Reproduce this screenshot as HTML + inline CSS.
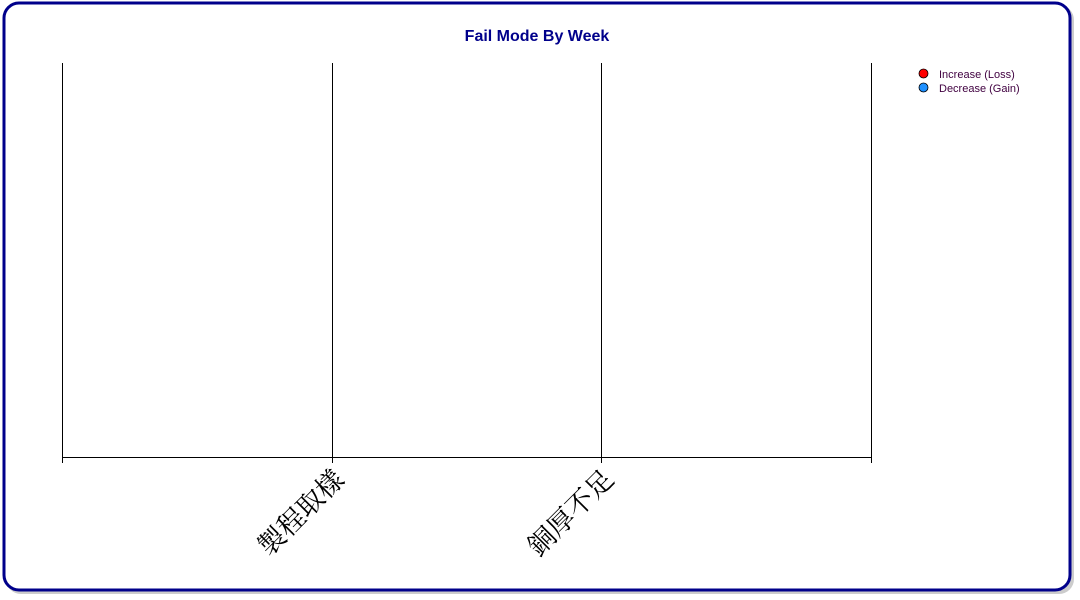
<!DOCTYPE html>
<html><head><meta charset="utf-8"><style>
html,body{margin:0;padding:0;background:#fff;width:1080px;height:600px;overflow:hidden}
svg{display:block}
</style></head><body>
<svg width="1080" height="600">
<rect x="6" y="5" width="1068" height="589" rx="15" fill="#999" opacity="0.5"/>
<rect x="4" y="3" width="1066" height="587" rx="15" fill="#fff" stroke="#00008B" stroke-width="3"/>
<text x="537" y="41" text-anchor="middle" font-family="Liberation Sans, sans-serif" font-size="16" font-weight="bold" fill="#00008B">Fail Mode By Week</text>
<g id="plot"></g>
<g font-family="Liberation Sans, sans-serif" font-size="11" fill="#400040">
<g><circle cx="923.5" cy="73.5" r="4.5" fill="#f00" stroke="#000" stroke-width="0.8"/><text x="939" y="78">Increase (Loss)</text></g>
<g><circle cx="923.5" cy="87.5" r="4.5" fill="#1e90ff" stroke="#000" stroke-width="0.8"/><text x="939" y="92">Decrease (Gain)</text></g>
</g>
</svg>
<script>
const categories = ["製程取樣", "銅厚不足"];
const increaseValues = [0, 0];
const decreaseValues = [0, 0];
const gridTicks = [0, 1, 2, 3];
const X0 = 62, X1 = 871, Y0 = 63, Y1 = 457;
const xScale = v => X0 + (X1 - X0) * v / 3;
const ns = "http://www.w3.org/2000/svg";
const plot = document.getElementById("plot");
function mk(tag, attrs){const e=document.createElementNS(ns,tag);for(const k in attrs)e.setAttribute(k,attrs[k]);plot.appendChild(e);return e;}
gridTicks.forEach(t=>{
  const x = Math.round(xScale(t))+0.5;
  const g = mk("line",{x1:x,x2:x,y1:Y0,y2:463,stroke:"#000","stroke-width":1});
  
  
});
const ax = mk("line",{x1:X0,x2:X1+1,y1:Y1+0.5,y2:Y1+0.5,stroke:"#000","stroke-width":1});


categories.forEach((c,i)=>{
  const x = xScale(i+1);
  const t = mk("text",{x:0,y:0,"text-anchor":"end","font-family":"Liberation Serif, Noto Serif CJK SC, serif","font-size":27,fill:"#000",transform:`translate(${x+14},${Y1+24}) rotate(-45)`});
  t.textContent = c;
  
  
});
</script>
</body></html>
